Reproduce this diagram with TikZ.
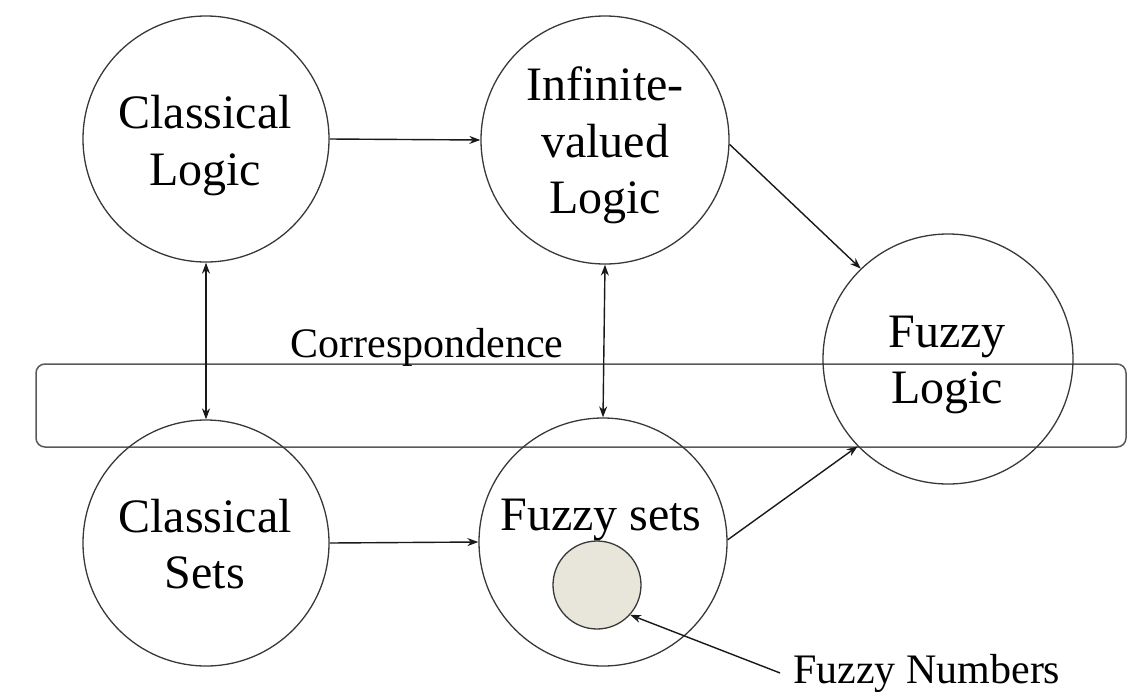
\documentclass[tikz,border=0pt]{standalone}
\usepackage{fontspec}
\setmainfont{Liberation Serif}
\usetikzlibrary{arrows.meta}
\definecolor{numfill}{RGB}{232,230,218}
\tikzset{
  bubble/.style={circle, draw=black!78, line width=1.3pt, inner sep=0pt, minimum size=#1},
  lbl/.style={anchor=base, inner sep=0pt, font=\fontsize{48}{57}\selectfont},
  smalllbl/.style={font=\fontsize{42}{50}\selectfont},
  conn/.style={draw=black!90, line width=1.4pt, -{Stealth[length=11pt,width=8pt]}},
  biconn/.style={draw=black!90, line width=1.4pt, {Stealth[length=11pt,width=8pt]}-{Stealth[length=11pt,width=8pt]}},
  band/.style={draw=black!65, line width=1.5pt, rounded corners=9pt}
}
\begin{document}
\begin{tikzpicture}[x=1pt,y=-1pt]
\useasboundingbox (0,0) rectangle (1140,691);
% correspondence band
\draw[band] (36,364) rectangle (1126,447);
\node[smalllbl, anchor=base, inner sep=0pt] (corr) at (427,357) {Correspondence};
% circles
\node[bubble=246pt] (cl) at (206,139) {};
\node[bubble=248pt] (iv) at (605,140) {};
\node[bubble=250pt] (fl) at (948,359) {};
\node[bubble=246pt] (cs) at (206,543) {};
\node[bubble=248pt] (fs) at (603,542) {};
\node[circle, draw=black!78, line width=1.3pt, fill=numfill, inner sep=0pt, minimum size=88pt] (fn0) at (597,585) {};
% labels
\node[lbl] (cl1) at (205,128) {Classical};
\node[lbl] (cl2) at (205,185) {Logic};
\node[lbl] (iv1) at (605,100) {Infinite-};
\node[lbl] (iv2) at (605,157) {valued};
\node[lbl] (iv3) at (605,213) {Logic};
\node[lbl] (fl1) at (947,347) {Fuzzy};
\node[lbl] (fl2) at (947,403) {Logic};
\node[lbl] (cs1) at (205,532) {Classical};
\node[lbl] (cs2) at (205,588) {Sets};
\node[lbl] (fs1) at (601,530) {Fuzzy sets};
\node[smalllbl, anchor=base west, inner xsep=13pt, inner ysep=0pt] (fn) at (780,683) {Fuzzy Numbers};
% connectors
\draw[conn] (cl.east) -- (iv.west);
\draw[conn] (cs.east) -- (fs.west);
\draw[conn] (iv.-2) -- (fl.134);
\draw[conn] (fs.1) -- (fl.224);
\draw[biconn] (cl.south) -- (cs.north);
\draw[biconn] (iv.south) -- (fs.north);
\draw[conn] (fn.west) -- (fn0.-42);
\end{tikzpicture}
\end{document}
